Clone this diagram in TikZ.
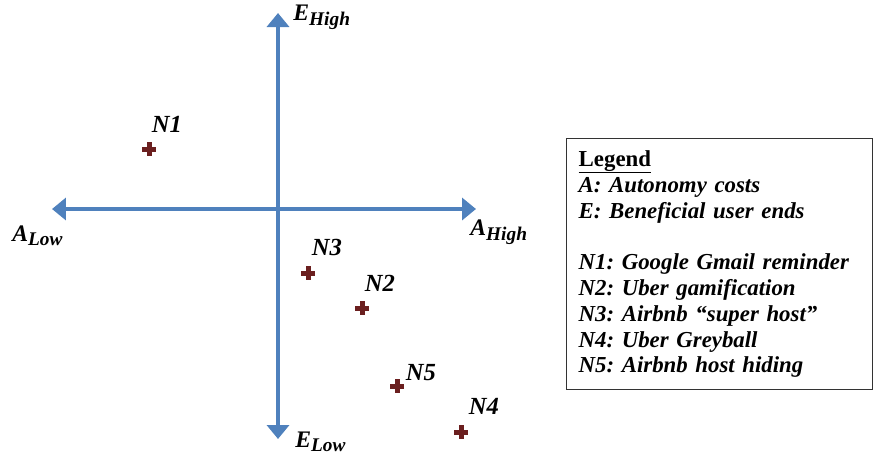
\documentclass[tikz,border=0pt]{standalone}
\usepackage{fontspec}
\setmainfont{Liberation Serif}
\usepackage{tikz}
\usetikzlibrary{arrows.meta, positioning}
\definecolor{axisblue}{HTML}{4F81BD}
\definecolor{crossred}{HTML}{6B1F1F}
\tikzstyle{axisline} = [line width=0.08cm, draw=axisblue, {Triangle[length=0.28cm, width=0.44cm]}-{Triangle[length=0.28cm, width=0.44cm]}]
\tikzstyle{ptcross} = [inner sep=0pt, minimum size=0.26cm]
\tikzstyle{crossline} = [line width=0.1cm, draw=crossred]
\tikzstyle{ptlabel} = [font=\fontsize{14}{16}\selectfont\bfseries\itshape, inner sep=0pt]
\tikzstyle{axlabel} = [font=\fontsize{13.5}{16}\selectfont\bfseries\itshape, inner sep=0pt]
\tikzstyle{legendbox} = [draw=black!80, line width=0.8pt, anchor=north west, text width=5.64cm, inner xsep=0.24cm, inner ysep=0.1cm, minimum height=5.02cm, align=left, font=\fontsize{13}{14.7}\selectfont\bfseries\itshape]
\newcommand{\axsub}[1]{\textsubscript{\fontsize{11}{12}\selectfont #1}}

\begin{document}
\frenchspacing
\begin{tikzpicture}[x=0.02cm, y=-0.02cm]
\useasboundingbox (0,0) rectangle (874,454);
% axis end points
\coordinate (alow) at (52,209);
\coordinate (ahigh) at (476,209);
\coordinate (ehigh) at (278,13);
\coordinate (elow) at (278,439);
\draw [axisline] (alow) -- (ahigh);
\draw [axisline] (elow) -- (ehigh);

% axis labels
\node (lehigh) [axlabel, anchor=west] at (293,17) {E\axsub{High}};
\node (lelow) [axlabel, anchor=west] at (295,442) {E\axsub{Low}};
\node (lalow) [axlabel, anchor=west] at (12,236) {A\axsub{Low}};
\node (lahigh) [axlabel, anchor=west] at (470,232) {A\axsub{High}};

% the five points
\node (n1) [ptcross] at (149,149) {};
\node (n2) [ptcross] at (362,308) {};
\node (n3) [ptcross] at (308,273) {};
\node (n4) [ptcross] at (461,432) {};
\node (n5) [ptcross] at (397,386) {};
\foreach \p in {n1,n2,n3,n4,n5}
  \draw [crossline] (\p.north) -- (\p.south) (\p.west) -- (\p.east);

\node (ln1) [ptlabel] at (167,124) {N1};
\node (ln2) [ptlabel] at (380,283) {N2};
\node (ln3) [ptlabel] at (327,247) {N3};
\node (ln4) [ptlabel] at (484,406) {N4};
\node (ln5) [ptlabel] at (421,373) {N5};

% legend
\node (legend) [legendbox] at (566,138) {%
\underline{\raisebox{0pt}[\height][2pt]{\upshape Legend}}\\
A: Autonomy costs\\
E: Beneficial user ends\\[14.7pt]
N1: Google Gmail reminder\\
N2: Uber gamification\\
N3: Airbnb ``super host''\\
N4: Uber Greyball\\
N5: Airbnb host hiding};
\end{tikzpicture}
\end{document}
